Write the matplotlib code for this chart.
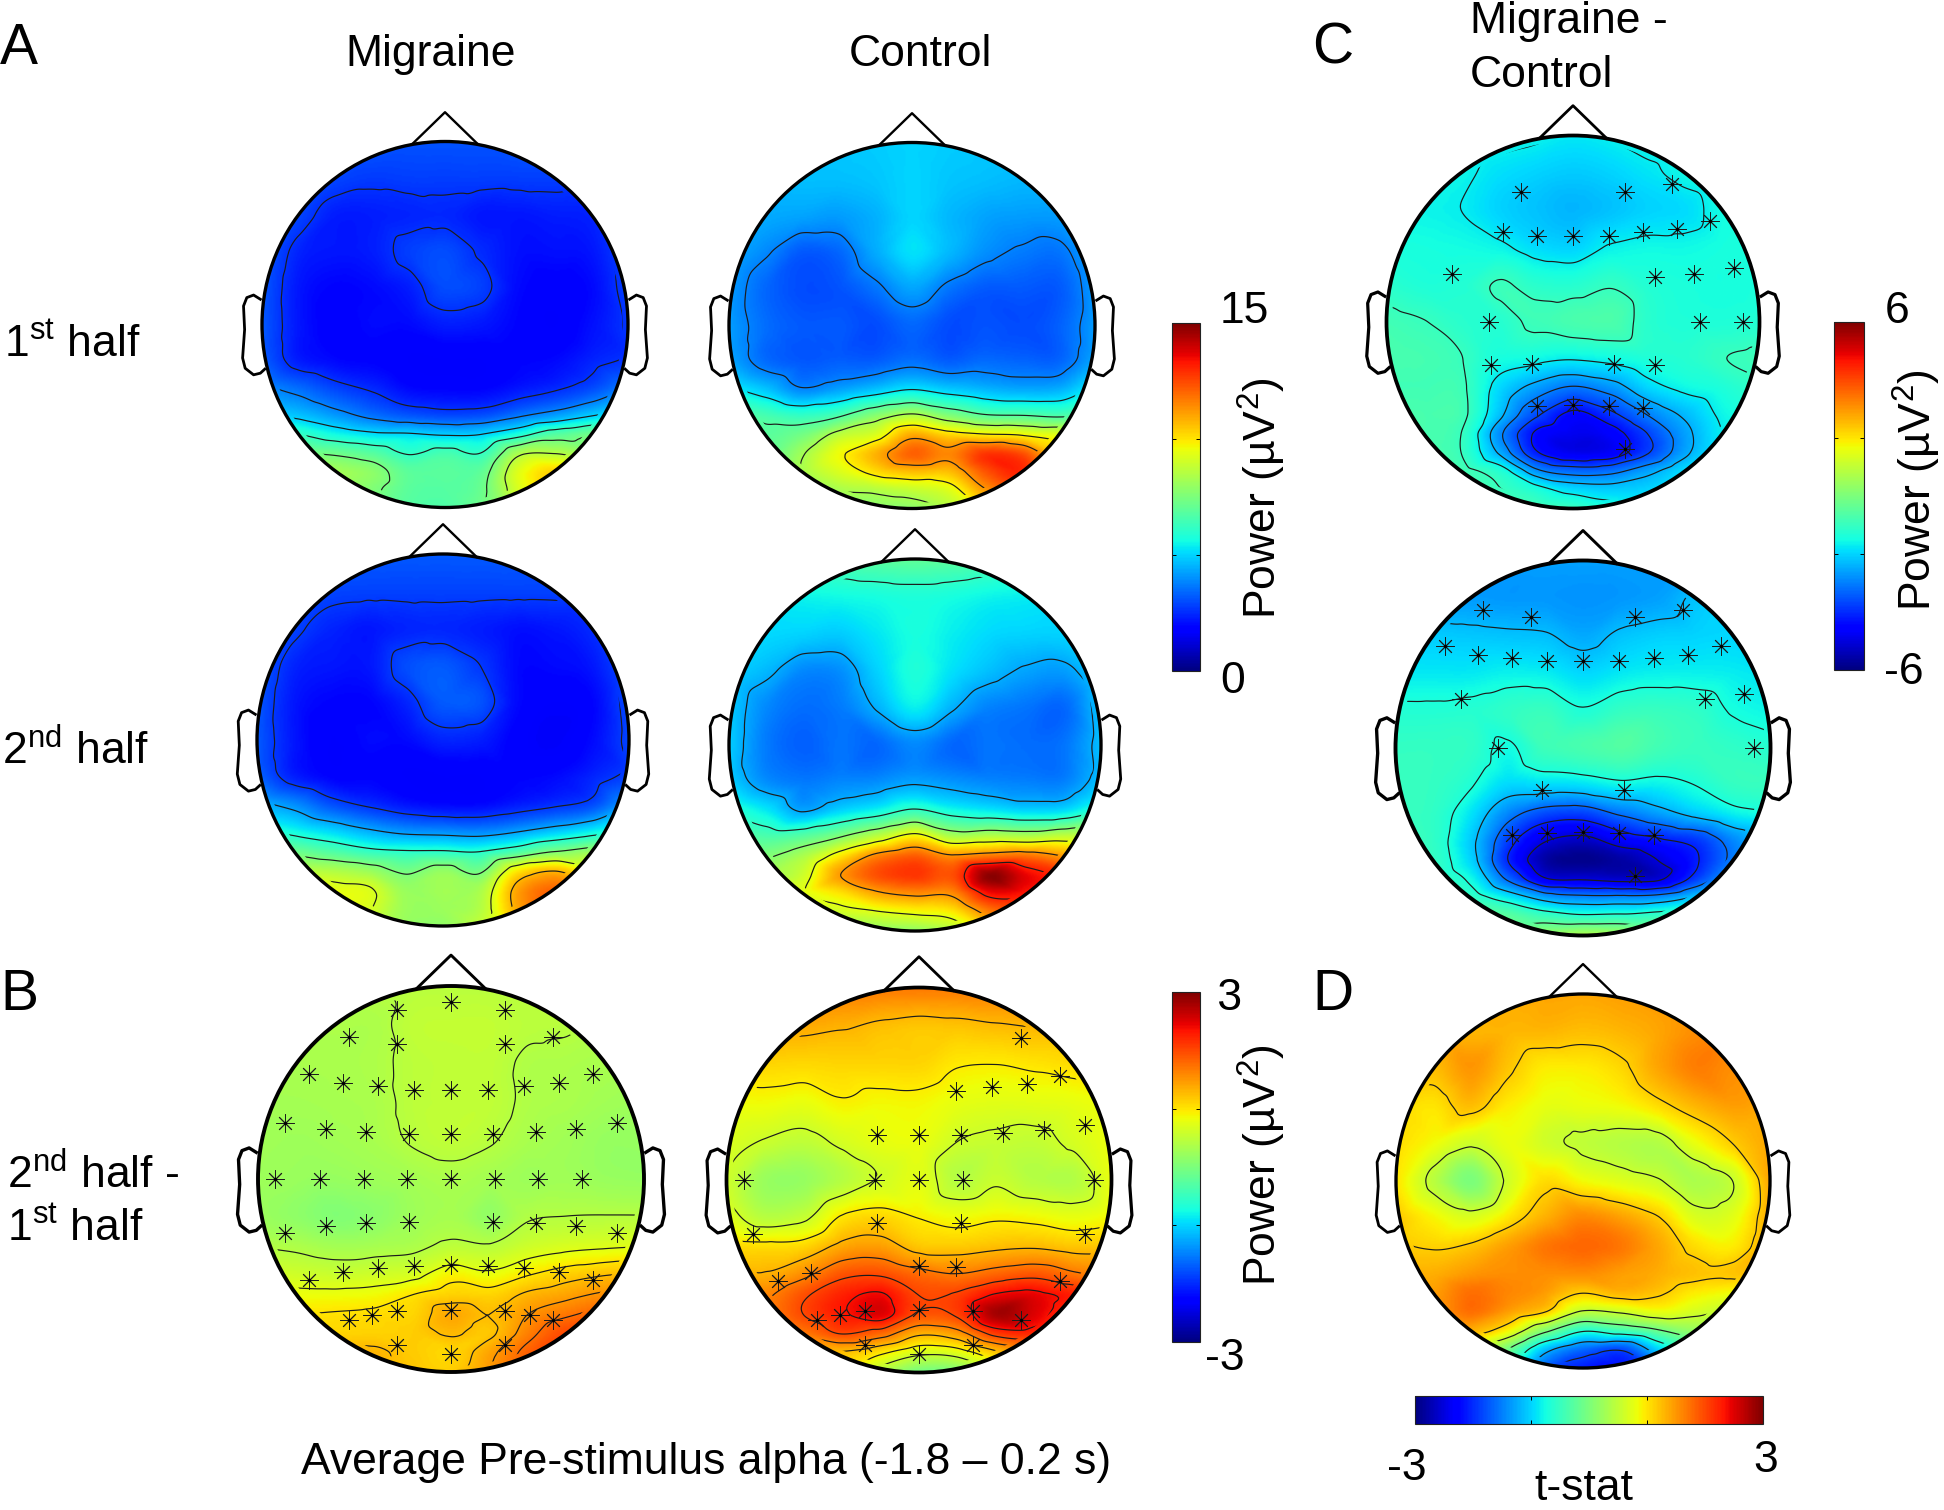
"""Pre-stimulus alpha topographies, migraine vs control"""
import matplotlib
matplotlib.use('Agg')
import matplotlib.pyplot as plt
import matplotlib.tri as mtri
from matplotlib.patches import Circle
from matplotlib.cm import ScalarMappable
from matplotlib.colors import Normalize
import numpy as np

plt.rcParams['font.family'] = ['Liberation Sans', 'DejaVu Sans']
plt.rcParams['mathtext.fontset'] = 'custom'
plt.rcParams['mathtext.rm'] = 'Liberation Sans'
plt.rcParams['mathtext.default'] = 'rm'

W, H = 1944, 1510
TXT = 32

# scalp values are read at these head coordinates (radius = 1)
GRID_X = [-1, -.8, -.6, -.4, -.2, 0, .2, .4, .6, .8, 1]
GRID_Y = [1, .8, .6, .4, .2, 0, -.2, -.35, -.5, -.6, -.7, -.8, -.9, -1]

MIG_FIRST = [
    [3.2, 3.2, 3.2, 3.2, 3.1, 3.1, 3.1, 3.2, 3.2, 3.2, 3.2],
    [3.4, 3.3, 2.9, 2.75, 2.8, 2.8, 2.8, 2.8, 2.8, 2.8, 3.2],
    [3.3, 2.9, 2.3, 2.3, 2.4, 2.45, 2.2, 2.2, 2.3, 2.4, 3.1],
    [3.3, 2.4, 2.2, 2.3, 2.8, 3.0, 2.5, 2.1, 2.1, 2.2, 3.0],
    [3.2, 2.2, 1.9, 2.0, 2.3, 3.0, 2.8, 2.0, 1.8, 2.0, 2.9],
    [3.2, 2.2, 1.8, 2.0, 2.0, 2.3, 2.2, 1.9, 1.7, 2.1, 2.7],
    [3.3, 2.3, 2.0, 1.9, 1.7, 1.7, 1.7, 1.9, 2.0, 2.4, 2.7],
    [4.0, 3.5, 2.9, 2.5, 2.0, 1.9, 1.9, 2.2, 2.5, 3.0, 3.8],
    [5.0, 4.8, 4.2, 3.6, 3.2, 3.0, 3.1, 3.7, 4.3, 5.0, 5.5],
    [6.5, 6.2, 5.6, 5.2, 5.1, 4.9, 5.0, 5.8, 6.8, 7.3, 7.5],
    [7.5, 7.4, 7.2, 6.8, 6.1, 6.5, 6.2, 8.3, 8.5, 8.0, 8.0],
    [8.2, 8.2, 8.2, 7.8, 6.9, 6.9, 7.0, 9.3, 10.3, 10, 9.5],
    [8.2, 8.2, 8.3, 7.6, 6.9, 6.8, 7.2, 9.2, 10.8, 10.5, 10],
    [8, 8, 8, 7.4, 6.8, 6.7, 7.3, 8.8, 10, 10, 10],
]
CTL_FIRST = [
    [4.8, 4.8, 4.8, 4.8, 4.9, 5.0, 4.9, 4.8, 4.8, 4.8, 4.8],
    [4.6, 4.6, 4.7, 4.7, 4.8, 5.0, 4.8, 4.7, 4.6, 4.6, 4.6],
    [4.4, 4.4, 4.3, 4.2, 4.5, 5.0, 4.6, 4.3, 4.2, 4.2, 4.4],
    [4.4, 3.9, 3.2, 3.4, 4.4, 5.2, 4.6, 4.0, 3.7, 3.6, 4.4],
    [4.2, 3.4, 3.0, 3.1, 3.6, 4.3, 3.6, 3.2, 3.2, 3.2, 4.2],
    [4.2, 3.5, 3.2, 3.2, 3.0, 3.4, 3.0, 3.1, 3.0, 3.3, 4.2],
    [4.4, 3.5, 3.2, 3.3, 3.3, 3.6, 3.3, 3.5, 3.4, 3.4, 4.4],
    [5.5, 4.8, 3.9, 4.3, 4.8, 5.3, 4.9, 4.6, 4.4, 4.5, 5.5],
    [7.0, 6.6, 6.3, 6.8, 7.9, 8.7, 7.8, 7.1, 7.0, 6.8, 6.9],
    [7.2, 6.9, 7.4, 8.7, 9.3, 11.0, 10.3, 10.0, 9.8, 9.4, 9.0],
    [7, 7, 8.2, 9.6, 10.8, 12.1, 11.5, 12.8, 12.4, 10.3, 9.5],
    [7, 7, 8.3, 9.2, 10.1, 10.6, 10.6, 12.3, 13, 11, 10],
    [7, 7, 7.6, 8.3, 8.5, 8.8, 9.3, 11.2, 12.5, 11, 10],
    [7, 7, 7.2, 7.6, 7.7, 7.8, 8.5, 10, 11, 11, 10],
]
MIG_SECOND = [
    [3.3, 3.3, 3.3, 3.2, 3.2, 3.2, 3.2, 3.2, 3.2, 3.3, 3.3],
    [3.3, 3.2, 2.9, 2.85, 2.85, 2.85, 2.85, 2.85, 2.85, 2.85, 3.2],
    [3.3, 2.85, 2.4, 2.2, 2.4, 2.45, 2.3, 2.1, 2.2, 2.5, 3.2],
    [3.3, 2.4, 2.2, 2.2, 3.0, 3.2, 2.7, 2.0, 2.0, 2.2, 3.1],
    [3.2, 2.2, 1.9, 1.9, 2.4, 3.2, 3.1, 2.0, 1.7, 1.9, 3.0],
    [3.2, 2.2, 1.7, 2.0, 2.0, 2.4, 2.3, 1.8, 1.6, 2.0, 2.9],
    [3.4, 2.35, 1.9, 1.9, 1.7, 1.7, 1.7, 1.9, 2.0, 2.4, 2.9],
    [4.6, 4.0, 3.1, 2.6, 2.2, 2.0, 2.0, 2.3, 2.6, 3.0, 4.2],
    [6.2, 5.7, 5.2, 4.6, 4.2, 4.1, 4.0, 4.4, 5.0, 5.6, 6],
    [7.5, 7.2, 6.7, 6.2, 6.0, 6.0, 5.9, 6.6, 7.5, 8.0, 8.3],
    [8.8, 8.6, 8.4, 8.0, 7.3, 7.9, 7.3, 9.8, 10.6, 9.6, 9.5],
    [9.5, 9.5, 9.4, 9.2, 8.0, 8.2, 8.3, 11, 12, 11.5, 11],
    [9.6, 9.6, 9.7, 9.2, 8.1, 8.1, 8.5, 11, 12.5, 12, 11.5],
    [9, 9, 9.2, 8.8, 8.0, 7.9, 8.8, 10.5, 11.5, 11.5, 11],
]
CTL_SECOND = [
    [6.5, 6.5, 6.6, 6.7, 6.9, 7.0, 6.9, 6.7, 6.5, 6.5, 6.5],
    [5.4, 5.4, 5.5, 5.6, 5.7, 5.8, 5.7, 5.5, 5.4, 5.3, 5.3],
    [5.2, 5.1, 5.0, 4.9, 5.3, 5.7, 5.4, 5.1, 5.0, 5.0, 5.2],
    [5, 4.6, 3.9, 4.0, 5.0, 5.8, 5.2, 4.7, 4.3, 4.2, 5.0],
    [4.9, 3.9, 3.5, 3.7, 4.5, 5.4, 4.5, 3.8, 3.6, 3.4, 4.8],
    [4.9, 3.7, 3.3, 3.6, 3.4, 3.9, 3.4, 3.6, 3.5, 3.6, 4.7],
    [5, 4.0, 3.7, 3.9, 4.0, 4.3, 4.1, 3.9, 3.8, 3.8, 4.8],
    [6, 5.3, 4.3, 5.0, 5.5, 6.2, 5.6, 5.3, 5.0, 5.1, 6],
    [7, 6.7, 7.0, 7.8, 8.9, 10.0, 8.6, 8.8, 8.7, 9.0, 8.6],
    [7.5, 7.6, 8.4, 10, 11.6, 12.2, 11.4, 11.8, 11.9, 11.2, 10],
    [8, 8.2, 9.0, 11.2, 12.4, 12.8, 12.4, 14.8, 13.6, 12.8, 11],
    [8, 8.2, 9.3, 10, 11, 11.4, 11.4, 13.4, 13.3, 12.8, 11],
    [8, 8, 8.2, 9.0, 9.3, 9.6, 9.9, 11.6, 13, 12.5, 11],
    [7.5, 7.5, 7.6, 7.7, 7.8, 7.9, 8.5, 10, 11.5, 12, 11],
]
MIG_DIFF = [
    [.42, .42, .42, .43, .45, .45, .45, .43, .42, .40, .40],
    [.36, .36, .36, .36, .5, .52, .52, .46, .44, .38, .35],
    [.33, .33, .34, .37, .47, .5, .5, .38, .36, .33, .30],
    [.3, .3, .32, .35, .47, .5, .5, .38, .34, .28, .25],
    [.28, .25, .28, .33, .44, .5, .44, .33, .27, .2, .2],
    [.25, .22, .2, .25, .3, .35, .3, .25, .27, .22, .2],
    [.24, .15, .05, .12, .26, .32, .18, .4, .43, .44, .44],
    [.42, .37, .3, .32, .36, .48, .45, .6, .68, .72, .75],
    [.7, .62, .58, .62, .68, .92, .82, 1.0, 1.15, 1.25, 1.3],
    [.85, .82, .82, .85, 1.0, 1.12, 1.1, 1.3, 1.42, 1.55, 1.6],
    [1, 1, 1.02, 1.05, 1.1, 1.38, 1.25, 1.5, 1.7, 1.85, 1.9],
    [1.1, 1.1, 1.1, 1.12, 1.15, 1.28, 1.2, 1.65, 2.0, 2.1, 2.0],
    [1.2, 1.2, 1.2, 1.3, 1.16, 1.1, 1.42, 1.85, 2.1, 2.1, 2.0],
    [1.2, 1.2, 1.2, 1.3, 1.2, 1.15, 1.5, 1.9, 2.0, 2, 2],
]
CTL_DIFF = [
    [1.7, 1.7, 1.7, 1.7, 1.7, 1.7, 1.7, 1.7, 1.7, 1.7, 1.7],
    [1.4, 1.4, 1.38, 1.33, 1.25, 1.2, 1.22, 1.27, 1.31, 1.3, 1.3],
    [1.1, 1.1, 1.08, 1.1, 1.1, 1.1, .97, .95, 1.0, 1.05, 1.05],
    [.85, .85, .8, .92, .87, .88, .78, .74, .75, .78, .85],
    [.7, .58, .5, .66, .78, .8, .6, .55, .52, .66, .82],
    [.6, .22, .2, .42, .62, .75, .42, .56, .42, .4, .8],
    [.75, .45, .55, 1.0, 1.1, .95, .85, .92, .88, .8, .9],
    [1.1, 1.05, 1.1, 1.4, 1.45, 1.2, 1.18, 1.25, 1.28, 1.2, 1.2],
    [1.4, 1.35, 1.6, 1.95, 2.0, 1.8, 1.7, 1.85, 1.95, 1.75, 1.5],
    [1.6, 1.6, 1.95, 2.25, 2.4, 2.0, 2.05, 2.4, 2.45, 2.25, 1.9],
    [1.6, 1.65, 2.0, 2.3, 2.5, 1.95, 2.05, 2.8, 2.5, 2.1, 1.8],
    [1.5, 1.5, 1.7, 2.0, 1.8, 1.35, 1.5, 2.1, 2.2, 1.9, 1.6],
    [1.4, 1.4, 1.4, 1.25, 1.0, .68, .75, 1.2, 1.7, 1.6, 1.5],
    [1.2, 1.2, 1.2, 1.0, .4, -.05, .0, .6, 1.3, 1.4, 1.4],
]
GROUP_FIRST = [
    [-1.5, -1.5, -1.5, -1.5, -1.6, -1.75, -1.65, -1.5, -1.5, -1.5, -1.5],
    [-1.5, -1.5, -1.6, -1.85, -2.0, -2.1, -2.0, -1.8, -1.55, -1.4, -1.4],
    [-1.5, -1.6, -1.7, -2.0, -2.2, -2.35, -2.2, -2.0, -1.9, -1.5, -1.4],
    [-1.4, -1.45, -1.5, -1.6, -1.9, -2.0, -1.65, -1.55, -1.55, -1.45, -1.4],
    [-1.2, -1.35, -1.3, -.95, -1.2, -1.25, -1.05, -1.3, -1.4, -1.45, -1.4],
    [-.85, -.98, -1.2, -1.25, -.9, -.75, -.7, -1.2, -1.35, -1.35, -1.3],
    [-.75, -.8, -.98, -1.45, -1.55, -1.68, -1.55, -1.35, -1.25, -1.02, -.9],
    [-.85, -.85, -.9, -1.9, -2.6, -3.05, -2.7, -1.95, -1.55, -1.35, -1.1],
    [-.7, -.75, -.85, -2.2, -3.6, -4.5, -3.9, -3.0, -2.3, -1.6, -1.5],
    [-.7, -.75, -1.0, -2.8, -4.4, -4.8, -4.6, -3.7, -2.6, -1.7, -1.5],
    [-.7, -.75, -1.0, -2.45, -4.2, -4.85, -4.7, -3.75, -2.55, -1.7, -1.5],
    [-.6, -.65, -.8, -1.3, -2.8, -3.3, -3.2, -2.6, -1.9, -1.6, -1.5],
    [-.5, -.5, -.6, -.95, -1.4, -1.95, -2.1, -2.0, -1.65, -1.5, -1.5],
    [-.4, -.4, -.5, -.7, -.85, -1.0, -1.4, -1.5, -1.5, -1.5, -1.5],
]
GROUP_SECOND = [
    [-2.6, -2.6, -2.6, -2.6, -2.6, -2.6, -2.6, -2.6, -2.6, -2.6, -2.6],
    [-2.6, -2.6, -2.65, -2.7, -2.7, -2.75, -2.7, -2.6, -2.2, -2.0, -2.0],
    [-2.1, -2.1, -2.15, -2.2, -2.25, -2.5, -2.2, -2.05, -2.0, -1.95, -1.95],
    [-1.75, -1.75, -1.75, -1.65, -1.7, -1.95, -1.75, -1.65, -1.65, -1.7, -1.8],
    [-1.3, -1.3, -1.25, -1.1, -1.0, -1.35, -1.05, -1.0, -1.1, -1.45, -1.6],
    [-1.05, -1.05, -1.1, -1.5, -.9, -.75, -.6, -.85, -1.0, -1.1, -1.25],
    [-1.0, -1.05, -1.35, -1.95, -1.9, -1.85, -1.6, -1.65, -1.4, -1.05, -1.0],
    [-1.0, -1.1, -1.8, -2.9, -3.6, -3.7, -3.1, -2.6, -2.1, -1.65, -1.4],
    [-1.0, -1.1, -2.1, -3.8, -5.0, -5.3, -4.7, -4.3, -3.9, -2.9, -2.0],
    [-1.0, -1.05, -2.0, -4.1, -5.6, -5.85, -5.6, -5.0, -4.2, -3.0, -2.0],
    [-.9, -1.0, -1.55, -3.3, -4.9, -5.05, -5.2, -5.1, -3.8, -2.5, -1.8],
    [-.8, -.85, -1.05, -1.75, -2.6, -2.9, -2.9, -2.8, -2.15, -1.6, -1.3],
    [-.6, -.6, -.6, -.5, -.95, -1.2, -1.15, -1.0, -.9, -.9, -.9],
    [-.2, -.2, -.2, -.1, .4, .7, .6, .1, -.4, -.6, -.6],
]
TSTAT = [
    [1.35, 1.35, 1.35, 1.35, 1.4, 1.4, 1.45, 1.5, 1.5, 1.5, 1.5],
    [1.3, 1.3, 1.3, 1.3, 1.3, 1.25, 1.3, 1.4, 1.55, 1.6, 1.6],
    [1.3, 1.25, 1.5, 1.2, .95, .95, 1.08, 1.4, 1.65, 1.55, 1.5],
    [1.1, 1.0, 1.25, .95, .78, .8, .85, 1.05, 1.3, 1.45, 1.4],
    [1.05, .85, .6, .8, .62, .5, .42, .4, .8, 1.15, 1.4],
    [1.0, .45, .0, .62, 1.05, .85, .72, .58, .35, .55, 1.4],
    [1.2, .9, .7, 1.0, 1.35, 1.6, 1.45, 1.18, .7, .75, 1.4],
    [1.2, 1.12, 1.2, 1.45, 1.7, 1.8, 1.7, 1.4, 1.05, .95, 1.4],
    [1.4, 1.35, 1.5, 1.55, 1.55, 1.55, 1.45, 1.35, 1.22, 1.2, 1.3],
    [1.4, 1.45, 1.75, 1.6, 1.45, 1.15, 1.3, 1.2, .95, .85, .9],
    [1.4, 1.45, 1.75, 1.45, 1.15, .5, .6, .8, .65, .5, .5],
    [1.3, 1.3, 1.35, .9, .05, -.6, -.4, -.1, .2, .2, .2],
    [1.1, 1.1, 1.0, -.05, -1.1, -1.6, -1.8, -1.0, -.1, .1, .1],
    [.8, .8, .6, -.5, -1.7, -2.1, -2.2, -1.6, -.6, -.1, -.1],
]

# contour levels of each map
LV_MIG_FIRST = [2.6, 3.8, 5.0, 6.2, 7.4, 8.6]
LV_CTL_FIRST = [3.8, 5.3, 6.8, 8.3, 9.8, 11.3]
LV_MIG_SECOND = [2.7, 4.3, 5.9, 7.5, 9.1, 10.7]
LV_CTL_SECOND = [4.4, 6.1, 7.7, 9.4, 11.2, 13.1]
LV_MIG_DIFF = [.42, .75, 1.0, 1.25, 1.5, 1.75]
LV_CTL_DIFF = [.6, .95, 1.3, 1.65, 2.0, 2.35]
LV_GROUP_FIRST = [-4.3, -3.7, -3.0, -2.4, -1.7, -1.0]
LV_GROUP_SECOND = [-5.0, -4.1, -3.2, -2.3, -1.4, -.5]
LV_TSTAT = [-1.85, -1.25, -.65, -.05, .55, 1.15]

# electrode positions in head coordinates
MONTAGE = {
    'Fp1': (-.281, .875), 'Fpz': (0, .915), 'Fp2': (.281, .875),
    'AF7': (-.531, .738), 'AF3': (-.278, .698), 'AF4': (.278, .698), 'AF8': (.531, .738),
    'F7': (-.734, .542), 'F5': (-.559, .498), 'F3': (-.378, .481), 'F1': (-.191, .462),
    'Fz': (0, .462), 'F2': (.191, .462), 'F4': (.378, .481), 'F6': (.559, .498), 'F8': (.734, .542),
    'FT7': (-.861, .288), 'FC5': (-.649, .26), 'FC3': (-.438, .243), 'FC1': (-.219, .234),
    'FCz': (0, .234), 'FC2': (.219, .234), 'FC4': (.438, .243), 'FC6': (.649, .26), 'FT8': (.861, .288),
    'T7': (-.91, 0), 'C5': (-.68, 0), 'C3': (-.451, 0), 'C1': (-.229, 0), 'Cz': (0, 0),
    'C2': (.229, 0), 'C4': (.451, 0), 'C6': (.68, 0), 'T8': (.91, 0),
    'TP7': (-.861, -.28), 'CP5': (-.649, -.243), 'CP3': (-.438, -.229), 'CP1': (-.219, -.224),
    'CP2': (.219, -.224), 'CP4': (.438, -.229), 'CP6': (.649, -.243), 'TP8': (.861, -.28),
    'P7': (-.734, -.523), 'P5': (-.559, -.483), 'P3': (-.378, -.462), 'P1': (-.191, -.451),
    'Pz': (0, -.446), 'P2': (.191, -.451), 'P4': (.378, -.462), 'P6': (.559, -.483), 'P8': (.734, -.523),
    'PO7': (-.531, -.729), 'PO5': (-.41, -.703), 'PO3': (-.278, -.682), 'POz': (0, -.677),
    'PO4': (.278, -.682), 'PO6': (.41, -.703), 'PO8': (.531, -.729),
    'O1': (-.281, -.859), 'Oz': (0, -.905), 'O2': (.281, -.859),
}
SIG_MIG_DIFF = [k for k in MONTAGE if k != 'T8']
SIG_CTL_DIFF = ['AF8', 'F8', 'F2', 'F4', 'F6', 'FT8', 'FC6', 'FC4', 'FC2', 'FCz', 'FC1',
                'T7', 'C1', 'Cz', 'C2', 'T8', 'TP7', 'CP1', 'CP2', 'TP8', 'P7', 'P5', 'Pz', 'P2', 'P8',
                'PO7', 'PO5', 'PO3', 'POz', 'PO4', 'PO8', 'O1', 'O2', 'Oz']
SIG_GROUP_FIRST = ['AF3', 'AF4', 'AF8', 'F3', 'F1', 'Fz', 'F2', 'F4', 'F6', 'F8', 'FC5', 'FC4', 'FC6', 'FT8',
                   'C3', 'C6', 'T8', 'CP3', 'CP1', 'CP2', 'CP4', 'P1', 'Pz', 'P2', 'P4', 'PO4']
SIG_GROUP_SECOND = ['AF7', 'AF3', 'AF4', 'AF8', 'F7', 'F5', 'F3', 'F1', 'Fz', 'F2', 'F4', 'F6', 'F8',
                    'FC5', 'FC6', 'FT8', 'C3', 'T8', 'CP1', 'CP2', 'P3', 'P1', 'Pz', 'P2', 'P4', 'PO4']

# ear outline, left side
EAR_X = [-1.009, -1.046, -1.083, -1.101, -1.095, -1.106, -1.092, -1.046, -1.009, -.985]
EAR_Y = [.138, .161, .147, .101, -.028, -.183, -.239, -.275, -.266, -.244]


def head_map(fig, cx, cy, r, values, levels, vmin, vmax, sig=None, lw=2.0):
    # axes spans +-1.2 head radii around the centre given in pixels
    s = 1.2 * r
    ax = fig.add_axes([(cx - s) / W, 1 - (cy + s) / H, 2 * s / W, 2 * s / H])
    ax.set_xlim(-1.2, 1.2)
    ax.set_ylim(-1.2, 1.2)
    ax.axis('off')

    gx, gy = np.meshgrid(GRID_X, GRID_Y)
    tri = mtri.Triangulation(gx.ravel(), gy.ravel())
    interp = mtri.CubicTriInterpolator(tri, np.array(values, float).ravel(), kind='geom')
    fx, fy = np.meshgrid(np.linspace(-.998, .998, 260), np.linspace(-.998, .998, 260))
    z = interp(fx, fy)

    clip = Circle((0, 0), 1.0, transform=ax.transData)
    im = ax.imshow(z, origin='lower', extent=(-1, 1, -1, 1), cmap='jet', vmin=vmin, vmax=vmax,
                   interpolation='bilinear', aspect='auto')
    im.set_clip_path(clip)
    # solid lines for negative levels too
    cs = ax.contour(fx, fy, z, levels=levels, colors='#1c1c1c', linewidths=0.85, linestyles='solid')
    cs.set_clip_path(Circle((0, 0), 0.97, transform=ax.transData))
    ax.set_xlim(-1.2, 1.2)
    ax.set_ylim(-1.2, 1.2)

    ax.add_patch(Circle((0, 0), 1.0, fill=False, edgecolor='black', linewidth=lw + 0.4))
    ax.plot([-.18, 0, .18], [.985, 1.16, .985], color='black', linewidth=lw - 0.3)
    ax.plot(EAR_X, EAR_Y, color='black', linewidth=lw)
    ax.plot(-np.array(EAR_X), EAR_Y, color='black', linewidth=lw)

    if sig:
        xs = [MONTAGE[k][0] for k in sig]
        ys = [MONTAGE[k][1] for k in sig]
        ax.plot(xs, ys, ls='none', marker=(8, 2, 0), ms=13, mew=0.65, color='#1c1c1c')
        ax.plot(xs, ys, ls='none', marker='o', ms=2.4, mew=0, color='black')
    return ax


def colorbar(fig, x0, y0, x1, y1, vmin, vmax, vertical=True):
    cax = fig.add_axes([x0 / W, 1 - y1 / H, (x1 - x0) / W, (y1 - y0) / H])
    sm = ScalarMappable(norm=Normalize(vmin, vmax), cmap='jet')
    cb = fig.colorbar(sm, cax=cax, orientation='vertical' if vertical else 'horizontal')
    ticks = [vmin + (vmax - vmin) / 3, vmin + 2 * (vmax - vmin) / 3]
    cb.set_ticks(ticks)
    cb.outline.set_linewidth(0.8)
    cb.outline.set_edgecolor('#222222')
    if vertical:
        cax.tick_params(axis='y', direction='in', length=3, width=0.7, left=True, right=True,
                        labelleft=False, labelright=False)
    else:
        cax.tick_params(axis='x', direction='in', length=3, width=0.7, top=True, bottom=True,
                        labeltop=False, labelbottom=False)


def put(fig, x, y, s, size=TXT, ha='left', rotation=0, va='baseline'):
    fig.text(x / W, 1 - y / H, s, fontsize=size, ha=ha, va=va, rotation=rotation, color='black')


fig = plt.figure(figsize=(W / 100, H / 100), dpi=100, facecolor='white')

head_map(fig, 445, 324.5, 183, MIG_FIRST, LV_MIG_FIRST, 0, 15)
head_map(fig, 912, 325.5, 183, CTL_FIRST, LV_CTL_FIRST, 0, 15)
head_map(fig, 443, 740, 186, MIG_SECOND, LV_MIG_SECOND, 0, 15)
head_map(fig, 915, 745, 186, CTL_SECOND, LV_CTL_SECOND, 0, 15)
head_map(fig, 451, 1179, 193, MIG_DIFF, LV_MIG_DIFF, -3, 3, SIG_MIG_DIFF, lw=2.4)
head_map(fig, 919, 1180, 192.5, CTL_DIFF, LV_CTL_DIFF, -3, 3, SIG_CTL_DIFF, lw=2.3)
head_map(fig, 1573, 322, 186.5, GROUP_FIRST, LV_GROUP_FIRST, -6, 6, SIG_GROUP_FIRST, lw=2.3)
head_map(fig, 1583, 748, 187.5, GROUP_SECOND, LV_GROUP_SECOND, -6, 6, SIG_GROUP_SECOND, lw=2.4)
head_map(fig, 1583, 1181, 187, TSTAT, LV_TSTAT, -3, 3)

colorbar(fig, 1172, 323, 1200, 671, 0, 15)
colorbar(fig, 1172, 992, 1200, 1342, -3, 3)
colorbar(fig, 1834, 322, 1864, 670, -6, 6)
colorbar(fig, 1415, 1396, 1763, 1424, -3, 3, vertical=False)

put(fig, 0, 64, 'A', 41)
put(fig, 0, 1010, 'B', 41)
put(fig, 1312, 64, 'C', 41)
put(fig, 1312, 1010, 'D', 41)

put(fig, 431, 66, 'Migraine', ha='center')
put(fig, 920, 66, 'Control', ha='center')
put(fig, 1470, 33, 'Migraine -')
put(fig, 1470, 87, 'Control')

put(fig, 4, 357, '1$^{st}$ half')
put(fig, 2, 764, '2$^{nd}$ half')
put(fig, 7, 1188, '2$^{nd}$ half -')
put(fig, 7, 1241, '1$^{st}$ half')
put(fig, 706, 1474, 'Average Pre-stimulus alpha (-1.8 \u2013 0.2 s)', ha='center')

put(fig, 1220, 323, '15')
put(fig, 1220, 693, '0')
put(fig, 1205, 1010, ' 3')
put(fig, 1205, 1370, '-3')
put(fig, 1885, 323, '6')
put(fig, 1884, 684, '-6')
put(fig, 1387, 1480, '-3')
put(fig, 1753, 1472, '3')
put(fig, 1584, 1500, 't-stat', ha='center')

for x, y in ((1262, 498), (1262, 1165), (1917, 490)):
    put(fig, x, y, 'Power (\u00b5V$^2$)', ha='center', va='center', rotation=90)

fig.savefig('out.png', dpi=100, facecolor='white')
plt.close(fig)
